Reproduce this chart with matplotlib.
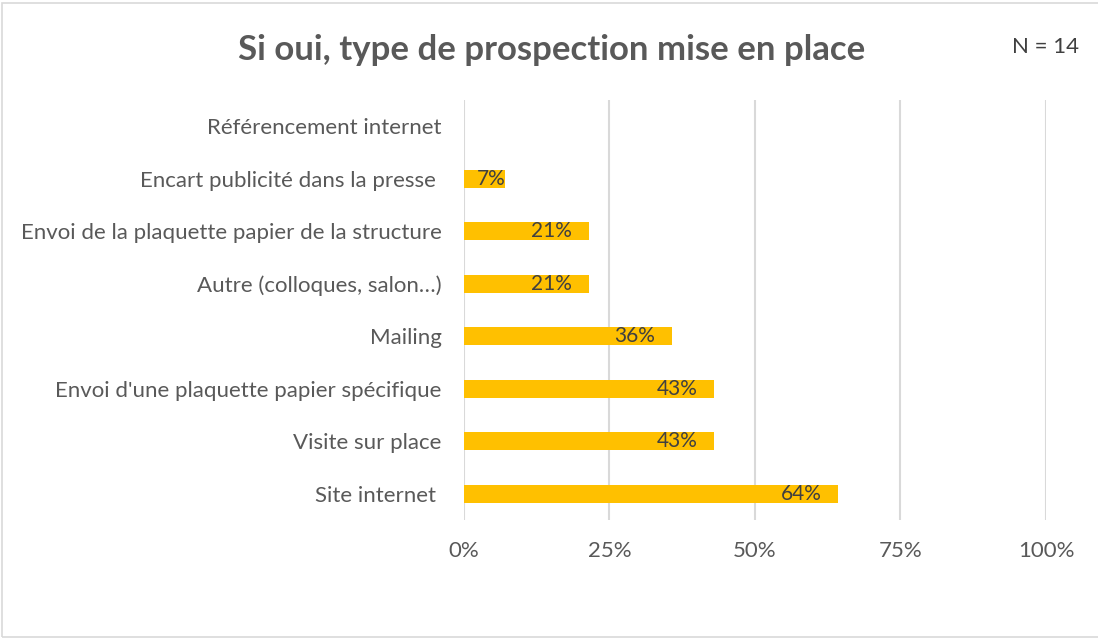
import matplotlib
matplotlib.use('Agg')
from matplotlib import pyplot as plt

categories = ['Site internet ', 'Visite sur place', "Envoi d'une plaquette papier spécifique",
              'Mailing', 'Autre (colloques, salon…)', 'Envoi de la plaquette papier de la structure',
              'Encart publicité dans la presse ', 'Référencement internet']
values = [64.3, 42.9, 42.9, 35.7, 21.4, 21.4, 7.1, 0.0]
labels = ['64%', '43%', '43%', '36%', '21%', '21%', '7%', '']
ticks = [0, 25, 50, 75, 100]
tick_labels = ['0%', '25%', '50%', '75%', '100%']

plt.rcParams['font.family'] = ['Lato', 'DejaVu Sans']

fig = plt.figure(figsize=(10.98, 6.39), dpi=100)
ax = fig.add_axes([0.4226, 0.1862, 0.53, 0.6573])

bars = ax.barh(range(len(categories)), values, height=0.34, color='#FFC000', zorder=3)
for bar, lab in zip(bars, labels):
    if lab:
        w = bar.get_width()
        x = w - 2.8 if w > 15 else w  # short bars: label pushed to the end
        ax.text(x, bar.get_y() + bar.get_height() / 2, lab,
                ha='right', va='center', fontsize=15, color='#404040', zorder=4)

ax.set_xlim(0, 100)
ax.set_ylim(-0.5, len(categories) - 0.5)
ax.set_xticks(ticks)
ax.set_xticklabels(tick_labels)
ax.set_yticks(range(len(categories)))
ax.set_yticklabels(categories)
ax.tick_params(axis='x', length=0, pad=15, labelsize=16, colors='#595959')
ax.tick_params(axis='y', length=0, pad=16, labelsize=16, colors='#595959')
ax.grid(axis='x', color='#D9D9D9', linewidth=1.5, zorder=0)
for s in ax.spines.values():
    s.set_visible(False)

fig.text(0.502, 0.922, 'Si oui, type de prospection mise en place', ha='center', va='center',
         fontsize=25, fontweight='bold', color='#595959')
fig.text(0.9825, 0.927, 'N = 14', ha='right', va='center', fontsize=16, color='#404040')

# chart frame
fig.patches.append(plt.Rectangle((0.002, 0.003), 1.2, 0.992, transform=fig.transFigure,
                                 fill=False, edgecolor='#D9D9D9', linewidth=1.2))

fig.savefig('out.png', dpi=100)
plt.close(fig)
